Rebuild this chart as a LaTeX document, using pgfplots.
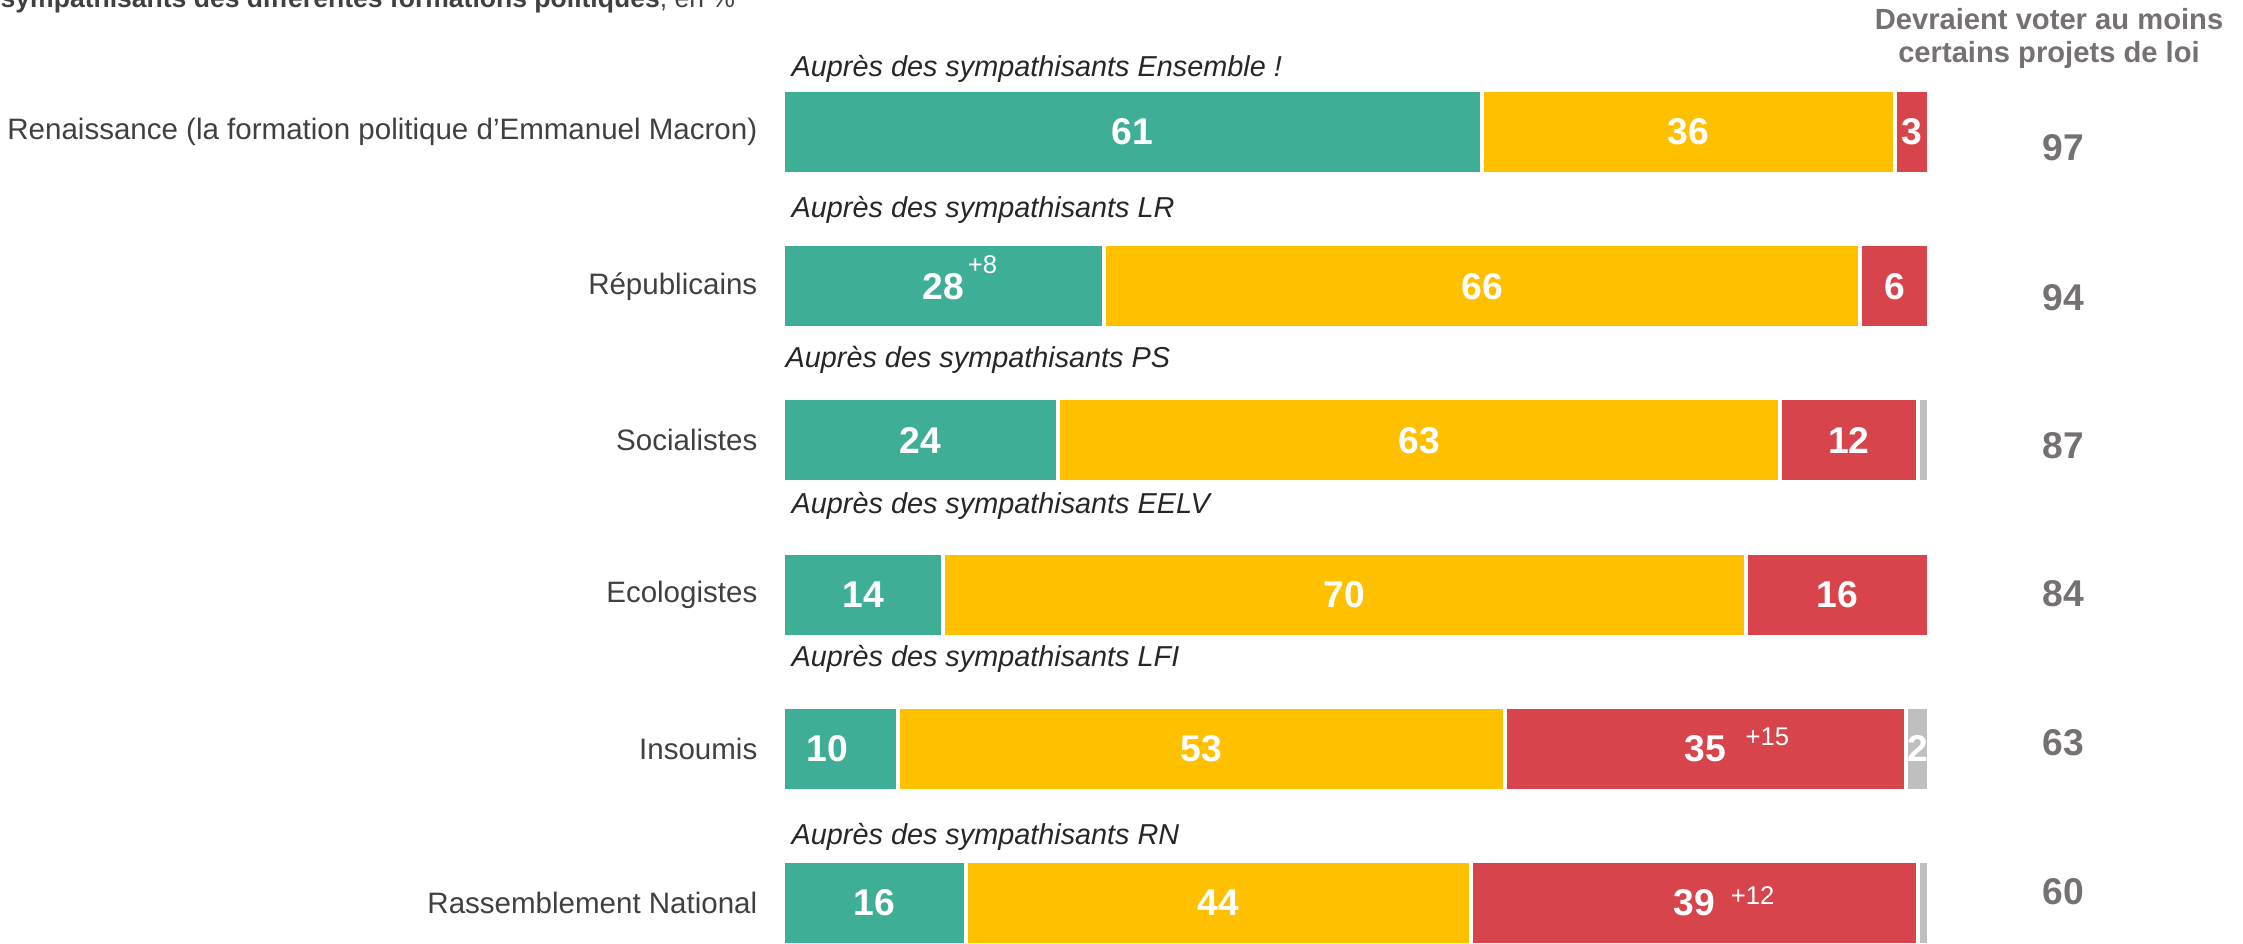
\documentclass[border=0pt]{standalone}
\usepackage{fontspec}
\setmainfont{Liberation Sans}
\usepackage{pgfplots}
\usepackage{pgfplotstable}
\pgfplotsset{compat=1.18}

\definecolor{cgreen}{HTML}{3FAE96}
\definecolor{cyellow}{HTML}{FFC000}
\definecolor{cred}{HTML}{D8444B}
\definecolor{cgrey}{HTML}{BFBFBF}
\definecolor{ctext}{HTML}{404040}
\definecolor{ctot}{HTML}{767171}
\definecolor{ctitle}{HTML}{262626}

% y: row, g/j/r/gr: segments, gl: x of green label, tot: right column, ty: its row position
\pgfplotstableread{
y g j r gr gl tot ty
5 61 36 3 0 30.5 97 4.896
4 28 66 6 0 14 94 3.929
3 24 63 12 1 12 87 2.963
2 14 70 16 0 7 84 2.003
1 10 53 35 2 3.84 63 1.037
0 16 44 39 1 8 60 0.071
}\parties

\pgfplotsset{
  base/.style={scale only axis, width=11.46cm, height=8.88cm,
    xmin=0, xmax=100, ymin=-0.26, ymax=5.5,
    at={(7.83cm,0cm)}, anchor=south west,
    axis line style={draw=none}, xtick=\empty, major tick length=0pt, clip=false},
  lbl/.style={only marks, mark=none, nodes near coords, nodes near coords align=center,
    point meta=explicit symbolic,
    every node near coord/.style={anchor=center, text=white, inner sep=0pt,
      font=\fontsize{10.6}{12}\selectfont\bfseries}},
  seg/.style={fill=#1, draw=white, line width=0.04cm},
}

\begin{document}
\begin{tikzpicture}
\useasboundingbox (0,0) rectangle (22.43,9.43);
\clip (0,0) rectangle (22.43,9.43);

\begin{axis}[base, xbar stacked, bar width=0.84cm,
  ytick={0,...,5},
  yticklabels={Rassemblement National, Insoumis, Ecologistes, Socialistes, Républicains, Renaissance (la formation politique d’Emmanuel Macron)},
  yticklabel style={anchor=east, inner sep=0pt, xshift=-0.25cm, text=ctext, font=\fontsize{8.4}{10}\selectfont}]
\addplot[seg=cgreen] table[x=g, y=y] {\parties};
\addplot[seg=cyellow] table[x=j, y=y] {\parties};
\addplot[seg=cred] table[x=r, y=y] {\parties};
\addplot[seg=cgrey] table[x=gr, y=y] {\parties};
\end{axis}

\begin{axis}[base, ytick=\empty]
\addplot[lbl] table[x=gl, y=y, meta=g] {\parties};
\addplot[lbl] table[x expr=\thisrow{g}+\thisrow{j}/2, y=y, meta=j] {\parties};
\addplot[lbl] table[x expr=\thisrow{g}+\thisrow{j}+\thisrow{r}/2, y=y, meta=r] {\parties};
\addplot[lbl, restrict x to domain=0:99.2] table[x expr=\thisrow{g}+\thisrow{j}+\thisrow{r}+\thisrow{gr}/2, y=y, meta=gr] {\parties};
\addplot[lbl, every node near coord/.append style={text=ctot}] table[x expr=111.7, y=ty, meta=tot] {\parties};
\addplot[lbl, every node near coord/.append style={font=\fontsize{7.3}{8}\selectfont}] coordinates {
  (17.4,4.137) [+8] (85.9,1.076) [+15] (84.6,0.051) [+12]
};
\end{axis}

\node[anchor=base west, inner sep=0pt, text=ctext, font=\fontsize{7.55}{9}\selectfont]
  at (0,9.35) {\bfseries sympathisants des différentes formations politiques\mdseries, en \%};
\node[align=center, inner sep=0pt, text=ctot, font=\fontsize{8.3}{9.4}\selectfont\bfseries]
  at (20.49,9.045) {Devraient voter au moins\\certains projets de loi};

\begin{scope}[every node/.style={anchor=west, inner sep=0pt, text=ctitle, font=\fontsize{8.2}{10}\selectfont\itshape}]
\node at (7.91,8.74) {Auprès des sympathisants Ensemble !};
\node at (7.91,7.33) {Auprès des sympathisants LR};
\node at (7.85,5.83) {Auprès des sympathisants PS};
\node at (7.91,4.37) {Auprès des sympathisants EELV};
\node at (7.91,2.84) {Auprès des sympathisants LFI};
\node at (7.91,1.06) {Auprès des sympathisants RN};
\end{scope}
\end{tikzpicture}
\end{document}
